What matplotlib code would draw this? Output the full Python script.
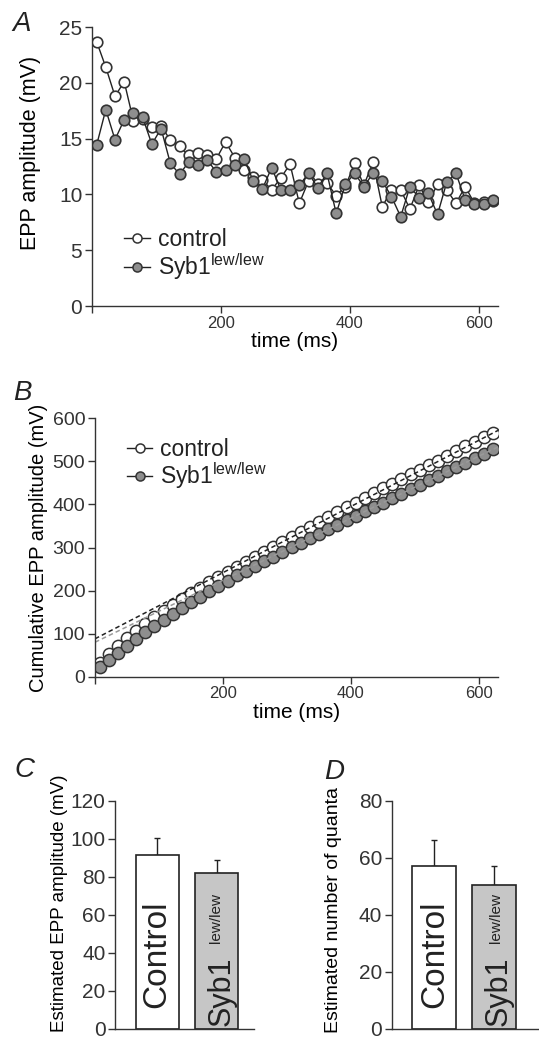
import numpy as np
import matplotlib
matplotlib.use("Agg")
import matplotlib.pyplot as plt
from matplotlib.lines import Line2D
from matplotlib import font_manager

# fonts
names = {f.name for f in font_manager.fontManager.ttflist}
base_font = "Liberation Sans" if "Liberation Sans" in names else "DejaVu Sans"
plt.rcParams["font.family"] = [base_font, "DejaVu Sans"]
plt.rcParams["mathtext.fontset"] = "custom"
plt.rcParams["mathtext.rm"] = base_font
plt.rcParams["mathtext.it"] = base_font + ":italic"
plt.rcParams["text.color"] = "#222222"
plt.rcParams["axes.edgecolor"] = "#333333"
plt.rcParams["xtick.color"] = "#333333"
plt.rcParams["ytick.color"] = "#333333"

# ---- data ----
# 70 Hz train, 44 stimuli
interval_ms = 14.3
first_ms = 7.1
n_stim = 44
times = first_ms + interval_ms * np.arange(n_stim)

# A: EPP amplitude of each response (mV)
epp_control = [23.7, 21.4, 18.8, 20.1, 16.6, 16.8, 16.0, 16.1, 14.9, 14.3,
               13.5, 13.7, 13.5, 13.2, 14.7, 13.3, 12.2, 11.6, 11.3, 10.4,
               11.5, 12.7, 9.2, 11.2, 10.9, 11.0, 9.9, 10.7, 12.8, 10.8,
               12.9, 8.9, 10.4, 10.4, 8.7, 10.8, 9.3, 10.9, 10.4, 9.2,
               10.7, 9.2, 9.3, 9.4]
epp_syb = [14.4, 17.6, 14.9, 16.7, 17.3, 16.9, 14.5, 15.9, 12.8, 11.8,
           12.9, 12.6, 13.1, 12.0, 12.2, 12.6, 13.2, 11.2, 10.5, 12.4,
           10.4, 10.4, 10.8, 11.9, 10.6, 11.9, 8.3, 10.9, 11.9, 10.7,
           11.9, 11.2, 9.8, 8.0, 10.7, 9.7, 10.1, 8.2, 11.1, 11.9,
           9.5, 9.1, 9.1, 9.5]

# B: cumulative EPP amplitude (mV)
cum_control = [32, 52, 71, 89, 106, 122, 138, 153, 167, 181,
               194, 207, 219, 231, 243, 255, 267, 279, 290, 302,
               313, 325, 336, 348, 359, 371, 382, 393, 404, 415,
               426, 437, 448, 459, 470, 481, 491, 502, 513, 524,
               535, 545, 556, 566]
cum_syb = [22, 39, 56, 72, 88, 103, 118, 132, 146, 160,
           173, 186, 199, 211, 223, 235, 246, 257, 268, 279,
           290, 301, 311, 322, 332, 342, 353, 363, 373, 384,
           394, 404, 415, 425, 435, 446, 456, 466, 477, 487,
           497, 508, 518, 528]
# linear fits to the late part (intercept mV, slope mV/ms)
fit_control = (88.0, 0.768)
fit_syb = (80.0, 0.720)
fit_range = [0, 630]

# C / D: bar summaries
groups = ["Control", "Syb1"]
est_epp = [91.3, 82.0]
est_epp_err = [8.8, 6.7]
est_quanta = [57.2, 50.5]
est_quanta_err = [9.0, 6.5]

# ---- figure ----
W, H = 539, 1040
fig = plt.figure(figsize=(W / 100, H / 100), dpi=100)

def px_axes(left, top, right, bottom):
    return fig.add_axes([left / W, 1 - bottom / H, (right - left) / W, (bottom - top) / H])

def style(ax, ytick_size, xtick_size=12):
    for s in ["top", "right"]:
        ax.spines[s].set_visible(False)
    for s in ["left", "bottom"]:
        ax.spines[s].set_linewidth(1.0)
    ax.tick_params(direction="out", length=5, width=1.0, pad=2)
    ax.tick_params(axis="y", labelsize=ytick_size)
    ax.tick_params(axis="x", labelsize=xtick_size)

white_kw = dict(marker="o", mfc="white", mec="#333333")
gray_kw = dict(marker="o", mfc="#8e8e8e", mec="#333333")

# Panel A
axA = px_axes(92, 27, 498, 306)
axA.plot(times, epp_control, "-", color="#222222", lw=1.0, ms=7.6, mew=1.2, **white_kw)
axA.plot(times, epp_syb, "-", color="#222222", lw=1.0, ms=7.6, mew=1.2, **gray_kw)
axA.set_xlim(0, 630)
axA.set_ylim(0, 25)
axA.set_yticks([0, 5, 10, 15, 20, 25])
axA.set_xticks([0, 200, 400, 600])
axA.set_xticklabels(["", "200", "400", "600"])
style(axA, 15)
axA.set_ylabel("EPP amplitude (mV)", fontsize=15.5, labelpad=3)
axA.yaxis.set_label_coords(-0.125, 0.55)
axA.set_xlabel("time (ms)", fontsize=15, labelpad=1)

leg_handles = [Line2D([], [], color="#222222", lw=1.0, ms=6.5, mew=1.1, **white_kw),
               Line2D([], [], color="#222222", lw=1.0, ms=6.5, mew=1.1, **gray_kw)]
leg_labels = ["control", "Syb1$^{\\mathrm{lew/lew}}$"]
axA.legend(leg_handles, leg_labels, loc="upper left", bbox_to_anchor=(0.08, 0.28),
           frameon=False, fontsize=16.5, handlelength=1.1, handletextpad=0.35,
           labelspacing=0.0, borderpad=0, borderaxespad=0)

# Panel B
axB = px_axes(95, 418.3, 498, 676.7)
axB.plot(times, cum_control, ls="none", ms=8.8, mew=1.1, **white_kw)
axB.plot(times, cum_syb, ls="none", ms=8.8, mew=1.1, **gray_kw)
fx = np.array(fit_range, dtype=float)
axB.plot(fx, fit_control[0] + fit_control[1] * fx, ls=(0, (3, 2)), color="#222222", lw=1.1)
axB.plot(fx, fit_syb[0] + fit_syb[1] * fx, ls=(0, (3, 2)), color="#9a9a9a", lw=1.1)
axB.set_xlim(0, 630)
axB.set_ylim(0, 600)
axB.set_yticks(range(0, 601, 100))
axB.set_xticks([0, 200, 400, 600])
axB.set_xticklabels(["", "200", "400", "600"])
style(axB, 14)
axB.set_ylabel("Cumulative EPP amplitude (mV)", fontsize=14.5, labelpad=3)
axB.set_xlabel("time (ms)", fontsize=15, labelpad=1)
axB.legend(leg_handles, leg_labels, loc="upper left", bbox_to_anchor=(0.08, 0.925),
           frameon=False, fontsize=16.5, handlelength=1.1, handletextpad=0.35,
           labelspacing=0.0, borderpad=0, borderaxespad=0)

# Panels C and D
def bar_panel(ax, pos, vals, errs, ylim, yticks, ylabel, label_size, label_y, width,
              text_y, sup_y, sup_dx, syb_dx):
    ax.bar(pos, vals, width=width, color=["white", "#c6c6c6"], edgecolor="#222222", lw=1.2, zorder=2)
    ax.errorbar(pos, vals, yerr=[[0] * len(errs), errs], fmt="none", ecolor="#222222",
                elinewidth=1.0, capsize=2, capthick=1.0, zorder=1)
    ax.set_xlim(0, 1)
    ax.set_ylim(*ylim)
    ax.set_yticks(yticks)
    ax.set_xticks([])
    style(ax, 15)
    ax.set_ylabel(ylabel, fontsize=label_size)
    ax.yaxis.set_label_coords(-0.34, label_y)
    ax.text(pos[0], text_y[0], groups[0], rotation=90, ha="center", va="bottom", fontsize=24)
    ax.text(pos[1] + syb_dx, text_y[1], groups[1], rotation=90, ha="center", va="bottom", fontsize=22)
    ax.text(pos[1] + sup_dx, sup_y, "lew/lew", rotation=90, ha="center", va="bottom", fontsize=11)

axC = px_axes(115.2, 800.6, 254.4, 1029)
bar_panel(axC, [0.302, 0.731], est_epp, est_epp_err, (0, 120), range(0, 121, 20),
          "Estimated EPP amplitude (mV)", 13.5, 0.55, 0.309, (11.0, 1.8), 45.0, -0.01, 0.03)

axD = px_axes(391.9, 800.6, 539, 1029)
bar_panel(axD, [0.289, 0.694], est_quanta, est_quanta_err, (0, 80), range(0, 81, 20),
          "Estimated number of quanta", 14, 0.52, 0.298, (7.3, 1.2), 30.0, 0.016, 0.034)

# panel letters
for letter, x, y in [("A", 22, 24), ("B", 22, 393), ("C", 24, 770), ("D", 334, 772)]:
    fig.text(x / W, 1 - y / H, letter, fontsize=20, style="italic", ha="center", va="center")

fig.savefig("out.png", dpi=100)
